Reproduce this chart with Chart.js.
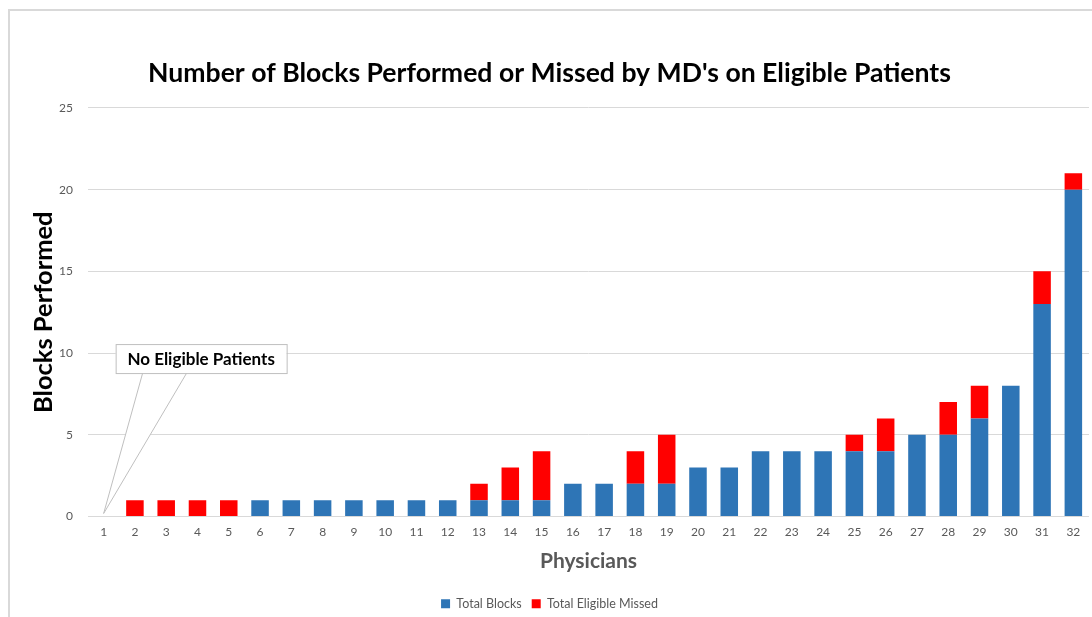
<!DOCTYPE html>
<html>
<head>
<meta charset="utf-8">
<script src="https://cdn.jsdelivr.net/npm/chart.js@4/dist/chart.umd.min.js"></script>
<style>
  html, body { margin: 0; padding: 0; background: #fff; }
  #wrap { position: relative; width: 1092px; height: 617px; }
  #frame { position: absolute; left: 8px; top: 9px; right: -4px; bottom: -4px;
           border-left: 2px solid #d9d9d9; border-top: 2px solid #d9d9d9; pointer-events: none; }
  canvas { position: absolute; left: 0; top: 0; }
</style>
</head>
<body>
<div id="wrap">
  <canvas id="chart" width="1092" height="617"></canvas>
  <div id="frame"></div>
</div>
<script>
const physicians = ['1','2','3','4','5','6','7','8','9','10','11','12','13','14','15','16',
                    '17','18','19','20','21','22','23','24','25','26','27','28','29','30','31','32'];
const totalBlocks = [0,0,0,0,0,1,1,1,1,1,1,1,1,1,1,2,2,2,2,3,3,4,4,4,4,4,5,5,6,8,13,20];
const totalMissed = [0,1,1,1,1,0,0,0,0,0,0,0,1,2,3,0,0,2,3,0,0,0,0,0,1,2,0,2,2,0,2,1];
const yTicks = [0, 5, 10, 15, 20, 25];
const calloutText = 'No Eligible Patients';

// callout box pointing at physician 1
const calloutPlugin = {
    id: 'callout',
    afterDatasetsDraw: function(chart) {
        const ctx = chart.ctx;
        const xs = chart.scales.x, ys = chart.scales.y;
        const px = xs.getPixelForValue(0), py = ys.getPixelForValue(0) - 3;
        const bx = px + 12, by = ys.getPixelForValue(10) - 9, bw = 171, bh = 29;
        ctx.save();
        ctx.strokeStyle = '#bfbfbf';
        ctx.lineWidth = 1;
        ctx.fillStyle = '#ffffff';
        ctx.beginPath();
        ctx.moveTo(bx + 27, by + bh);
        ctx.lineTo(px, py);
        ctx.lineTo(bx + 71, by + bh);
        ctx.closePath();
        ctx.fill();
        ctx.beginPath();
        ctx.moveTo(bx + 27, by + bh);
        ctx.lineTo(px, py);
        ctx.lineTo(bx + 71, by + bh);
        ctx.stroke();
        ctx.fillRect(bx, by, bw, bh);
        ctx.strokeRect(bx + 0.5, by + 0.5, bw, bh);
        ctx.fillStyle = '#000';
        ctx.font = 'bold 17px Lato';
        ctx.textAlign = 'center';
        ctx.textBaseline = 'middle';
        ctx.fillText(calloutText, bx + bw / 2, by + bh / 2 + 1);
        ctx.restore();
    }
};

new Chart(document.getElementById('chart').getContext('2d'), {
    type: 'bar',
    data: {
        labels: physicians,
        datasets: [{
            label: 'Total Blocks',
            data: totalBlocks,
            backgroundColor: '#2E75B6',
            barPercentage: 0.56,
            categoryPercentage: 1.0
        }, {
            label: 'Total Eligible Missed',
            data: totalMissed,
            backgroundColor: '#FF0000',
            barPercentage: 0.56,
            categoryPercentage: 1.0
        }]
    },
    options: {
        responsive: false,
        animation: false,
        layout: { padding: { left: 10, right: 3, top: 0, bottom: -3 } },
        plugins: {
            title: {
                display: true,
                text: "Number of Blocks Performed or Missed by MD's on Eligible Patients",
                color: '#000',
                font: { family: 'Lato', size: 26.6, weight: 'bold' },
                padding: { top: 57, bottom: 19 }
            },
            legend: {
                position: 'bottom',
                labels: {
                    boxWidth: 9, boxHeight: 9, color: '#595959',
                    font: { family: 'Lato', size: 12.5 }, padding: 10
                }
            },
            tooltip: { enabled: false }
        },
        scales: {
            x: {
                stacked: true,
                afterFit: function(s) { s.height = 71; },
                grid: { display: false, drawTicks: false },
                border: { display: false },
                ticks: { color: '#595959', font: { family: 'Lato', size: 12 }, padding: 8, maxRotation: 0 },
                title: {
                    display: true, text: 'Physicians', color: '#595959',
                    font: { family: 'Lato', size: 21, weight: 'bold' }, padding: { top: 2, bottom: 14 }
                }
            },
            y: {
                stacked: true,
                min: 0, max: 25,
                afterFit: function(s) { s.width = 78; },
                afterBuildTicks: function(s) { s.ticks = yTicks.map(v => ({ value: v })); },
                grid: { color: '#d9d9d9', drawTicks: false },
                border: { display: false },
                ticks: { color: '#595959', font: { family: 'Lato', size: 12 }, padding: 15 },
                title: {
                    display: true, text: 'Blocks Performed', color: '#000',
                    font: { family: 'Lato', size: 25.5, weight: 'bold' }, padding: { top: 18, bottom: 0 }
                }
            }
        }
    },
    plugins: [calloutPlugin]
});
</script>
</body>
</html>
